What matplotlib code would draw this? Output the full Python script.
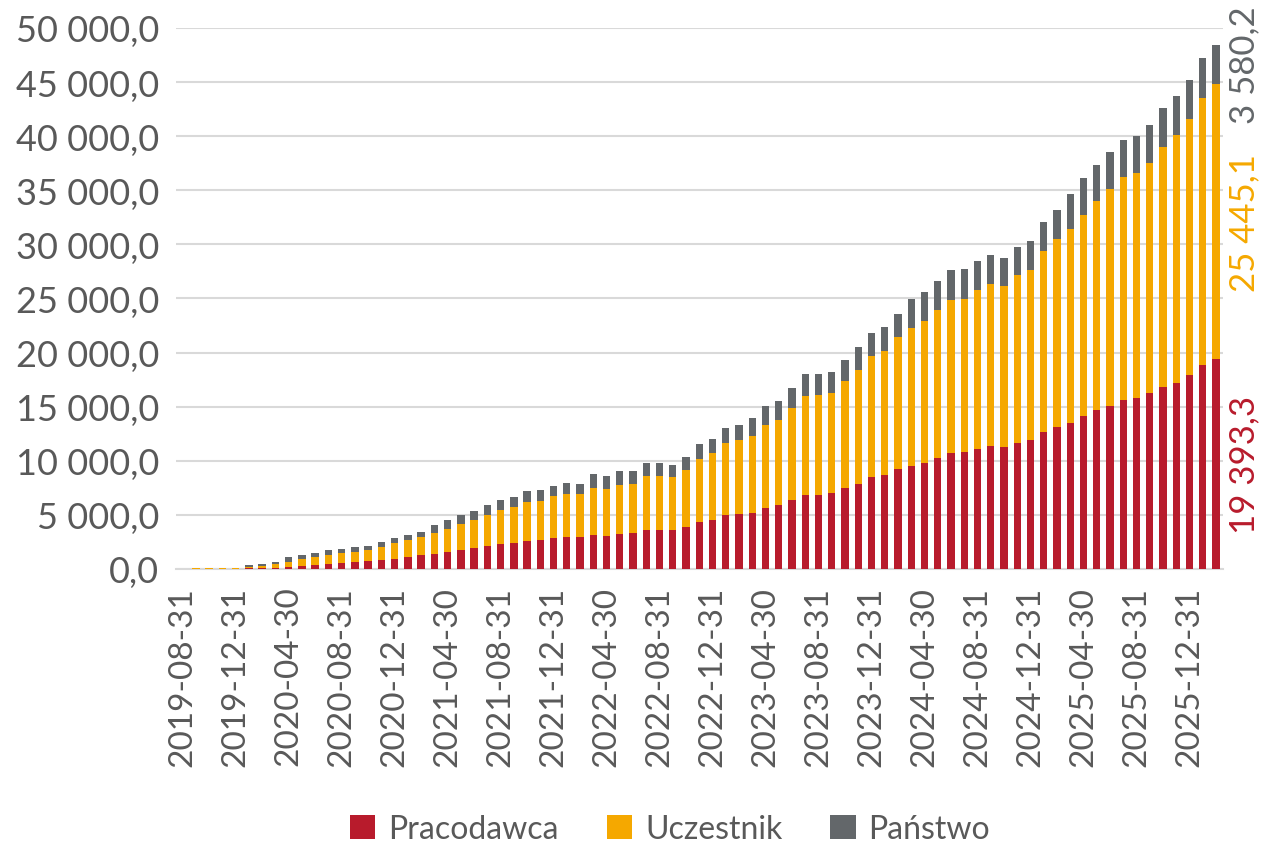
import numpy as np
import pandas as pd
import matplotlib
matplotlib.use("Agg")
import matplotlib.pyplot as plt
from matplotlib.ticker import FuncFormatter, MultipleLocator
import matplotlib.transforms as mtransforms

plt.rcParams['font.family'] = ['Lato', 'DejaVu Sans']

# Dane (mln zł) - koniec miesiąca, od 2019-08-31
daty = pd.date_range('2019-08-31', periods=79, freq='ME').strftime('%Y-%m-%d')

pracodawca = [0, 15, 20, 25, 30, 50, 60, 130, 220, 310, 410, 470, 530, 630, 720, 840,
              960, 1110, 1260, 1420, 1540, 1750, 1940, 2120, 2310, 2430, 2620, 2650,
              2830, 2950, 2950, 3160, 3090, 3270, 3330, 3610, 3610, 3580, 3860, 4350,
              4570, 4970, 5090, 5220, 5650, 5900, 6360, 6850, 6880, 6980, 7440, 7900,
              8460, 8670, 9200, 9540, 9810, 10280, 10680, 10770, 11080, 11330, 11230,
              11670, 11880, 12620, 13150, 13490, 14100, 14650, 15110, 15630, 15760,
              16240, 16850, 17230, 17940, 18810, 19393.3]
uczestnik = [0, 70, 75, 80, 85, 120, 200, 310, 470, 590, 690, 810, 940, 970, 1000, 1220,
             1450, 1570, 1690, 1880, 2120, 2400, 2580, 2830, 3140, 3290, 3570, 3630,
             3880, 4000, 3970, 4280, 4260, 4480, 4480, 4940, 4940, 4880, 5250, 5860,
             6170, 6700, 6820, 7040, 7620, 7900, 8540, 9140, 9230, 9290, 9910, 10520,
             11270, 11510, 12220, 12720, 13120, 13640, 14190, 14230, 14690, 15000, 14940,
             15490, 15770, 16730, 17310, 17900, 18640, 19350, 20000, 20610, 20800,
             21320, 22190, 22910, 23670, 24730, 25445.1]
panstwo = [0, 0, 0, 0, 0, 200, 220, 220, 410, 410, 410, 440, 410, 470, 440, 470,
           460, 490, 490, 740, 830, 860, 830, 920, 920, 920, 1050, 980,
           980, 980, 980, 1340, 1230, 1300, 1230, 1270, 1230, 1170, 1200, 1300,
           1270, 1390, 1360, 1730, 1790, 1760, 1830, 2040, 1940, 1910, 1980, 2070,
           2070, 2160, 2160, 2650, 2690, 2690, 2730, 2690, 2720, 2650, 2590,
           2620, 2620, 2720, 2750, 3240, 3360, 3380, 3410, 3450, 3440,
           3440, 3540, 3570, 3600, 3650, 3580.2]

kolory = {'Pracodawca': '#B81B2C', 'Uczestnik': '#F5A800', 'Państwo': '#63676A'}
szary = '#595959'


def fmt(v, pos=None):
    s = f'{v:,.1f}'.replace(',', ' ').replace('.', ',')
    return s


fig = plt.figure(figsize=(12.68, 8.45), dpi=100)
ax = fig.add_axes([176 / 1268, 1 - 570 / 845, (1222.7 - 176) / 1268, (570 - 29) / 845])

x = np.arange(len(daty))
p = np.array(pracodawca)
u = np.array(uczestnik)
s = np.array(panstwo)
w = 0.55
ax.bar(x, p, w, color=kolory['Pracodawca'], label='Pracodawca', zorder=3)
ax.bar(x, u, w, bottom=p, color=kolory['Uczestnik'], label='Uczestnik', zorder=3)
ax.bar(x, s, w, bottom=p + u, color=kolory['Państwo'], label='Państwo', zorder=3)

ax.set_xlim(-0.5, len(daty) - 0.5)
ax.set_ylim(0, 50000)
ax.yaxis.set_major_locator(MultipleLocator(5000))
ax.yaxis.set_major_formatter(FuncFormatter(fmt))
ax.grid(axis='y', color='#D9D9D9', linewidth=1.5, zorder=0)
ax.set_xticks(x[::4])
ax.set_xticklabels(daty[::4], rotation=90)
ax.tick_params(axis='both', length=0, colors=szary)
ax.tick_params(axis='y', pad=12, labelsize=26)
ax.tick_params(axis='x', pad=12, labelsize=24)
for sp in ['top', 'right', 'left']:
    ax.spines[sp].set_visible(False)
ax.spines['bottom'].set_color('#D9D9D9')
ax.spines['bottom'].set_linewidth(1.5)

# etykiety ostatniego słupka
tr = mtransforms.blended_transform_factory(ax.transAxes, ax.transData)
dol = 0
for val, kol in [(p[-1], kolory['Pracodawca']), (u[-1], kolory['Uczestnik']),
                 (s[-1], kolory['Państwo'])]:
    ax.text(1.021, dol + val / 2, fmt(val), transform=tr, rotation=90, color=kol,
            fontsize=25, ha='center', va='center', clip_on=False)
    dol += val

fig.legend(loc='center', bbox_to_anchor=(670 / 1268, 1 - 830 / 845), ncol=3,
           frameon=False, fontsize=23, handlelength=0.8, handleheight=0.8,
           columnspacing=1.5, handletextpad=0.4, labelcolor=szary)

fig.savefig('out.png', dpi=100)
